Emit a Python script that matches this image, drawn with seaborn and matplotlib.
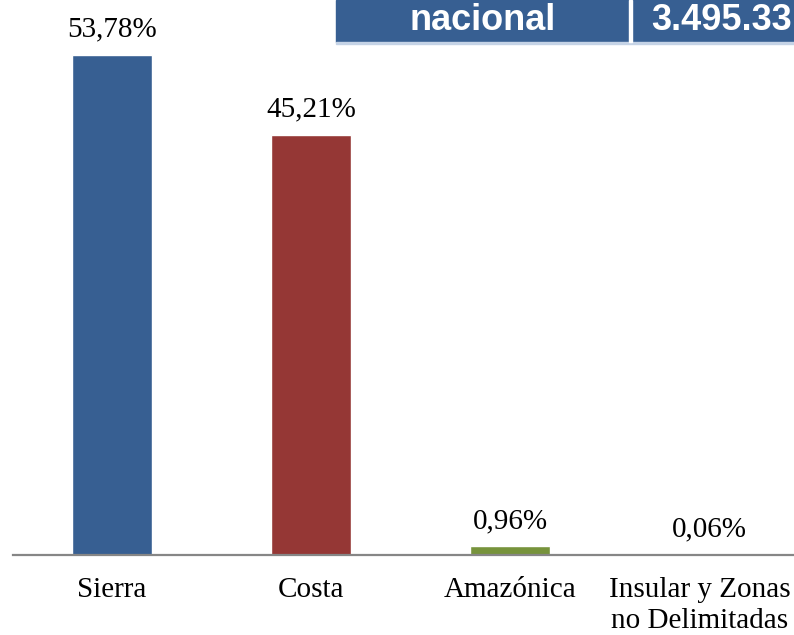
import matplotlib
matplotlib.use("Agg")
import matplotlib.pyplot as plt
import matplotlib.transforms as mtransforms
import seaborn as sns
import pandas as pd
from matplotlib.patches import Rectangle

categories = ["Sierra", "Costa", "Amazónica", "Insular y Zonas\nno Delimitadas"]
values = [53.78, 45.21, 0.96, 0.06]
colors = ["#375F92", "#953735", "#77933C", "#604A7B"]
box_texts = ["nacional", "3.495.33"]

sns.set_theme(style="white")
plt.rcParams["font.family"] = ["Liberation Serif", "DejaVu Serif"]

df = pd.DataFrame({"cat": categories, "val": values})

fig = plt.figure(figsize=(7.94, 6.35), dpi=100)
ax = fig.add_axes([12.5 / 794, 80 / 635, 796 / 794, 555 / 635])
sns.barplot(data=df, x="cat", y="val", hue="cat", palette=colors,
            width=0.4, legend=False, ax=ax, saturation=1)
ax.set_xlim(-0.5, 3.5)
ax.set_ylim(0, 59.68)
ax.set_xlabel("")
ax.set_ylabel("")
ax.set_yticks([])
for s in ["top", "right", "left"]:
    ax.spines[s].set_visible(False)
ax.spines["bottom"].set_color("#868686")
ax.spines["bottom"].set_linewidth(1.6)
ax.tick_params(axis="x", length=0, pad=16, labelsize=21, labelcolor="black")
labels = ax.get_xticklabels()
for lbl in labels:
    lbl.set_linespacing(1.25)
    lbl.set_verticalalignment("top")
shift = mtransforms.ScaledTranslation(-9 / 100, 0, fig.dpi_scale_trans)
labels[-1].set_transform(labels[-1].get_transform() + shift)

for i, v in enumerate(values):
    ax.annotate(f"{v:.2f}%".replace(".", ","), (i, v), xytext=(0, 13),
                textcoords="offset points", ha="center", va="baseline",
                fontsize=21, color="black")

# header box
fig.patches.append(Rectangle((336 / 794, 1 - 42 / 635), 1, 42 / 635,
                             transform=fig.transFigure, color="#375F92",
                             zorder=5))
fig.patches.append(Rectangle((336 / 794, 1 - 44 / 635), 1, 2 / 635,
                             transform=fig.transFigure, color="#C5D3E6",
                             zorder=5))
fig.patches.append(Rectangle((629 / 794, 1 - 42 / 635), 2.5 / 794, 42 / 635,
                             transform=fig.transFigure, color="white",
                             zorder=6))
fig.text(483 / 794, 1 - 30 / 635, box_texts[0], ha="center", va="baseline",
         fontsize=26, fontweight="bold", color="white",
         family=["Liberation Sans", "DejaVu Sans"], zorder=7)
fig.text(651 / 794, 1 - 30 / 635, box_texts[1], ha="left", va="baseline",
         fontsize=26, fontweight="bold", color="white",
         family=["Liberation Sans", "DejaVu Sans"], zorder=7)

fig.savefig("out.png", dpi=100)
